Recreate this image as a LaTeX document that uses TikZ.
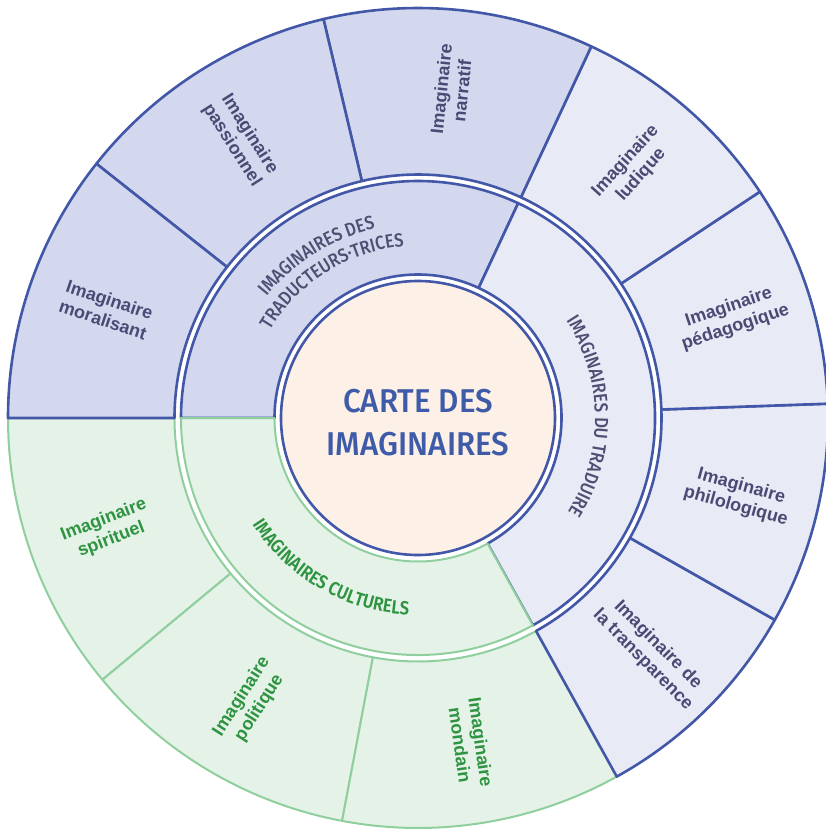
\documentclass[tikz,border=0pt]{standalone}
\usepackage{fontspec}
\setmainfont{Liberation Sans}
\newfontfamily\condfont[FakeStretch=0.88]{Fira Sans Medium}
\newfontfamily\condbold[FakeStretch=0.88]{Fira Sans SemiBold}
\newfontfamily\titlefont[FakeStretch=0.95]{Fira Sans Medium}
\usetikzlibrary{decorations.text}
\definecolor{bline}{HTML}{4257A8}
\definecolor{gline}{HTML}{8FCF9E}
\definecolor{darkfill}{HTML}{D3D8EE}
\definecolor{lightfill}{HTML}{E8EAF6}
\definecolor{greenfill}{HTML}{E5F2E7}
\definecolor{peach}{HTML}{FDF0E6}
\definecolor{btext}{HTML}{4A4B75}
\definecolor{mtext}{HTML}{4D4F73}
\definecolor{gtext}{HTML}{2E9441}
\definecolor{ttext}{HTML}{3E5BA9}
% #1 options, #2 start angle, #3 end angle, #4 inner radius, #5 outer radius
\newcommand\annsec[5]{%
  \path[#1] (#2:#4pt) arc[start angle=#2, end angle=#3, radius=#4pt]
    -- (#3:#5pt) arc[start angle=#3, end angle=#2, radius=#5pt] -- cycle;}
\begin{document}
\begin{tikzpicture}[x=1pt,y=1pt,
  bsec/.style={draw=bline, line width=2.6pt, line join=round},
  gsec/.style={draw=gline, line width=2pt, line join=round},
  lbl/.style={font=\fontsize{18}{21}\selectfont\bfseries, align=center, text=btext, inner sep=0pt},
  glbl/.style={lbl, text=gtext},
  ttl/.style={font=\titlefont\fontsize{33}{33}\selectfont, text=ttext, anchor=base, inner sep=0pt}]
\useasboundingbox (-418,-413) rectangle (408,418);
\clip (-418,-413) rectangle (408,418);
% outer ring, green part
\annsec{gsec, fill=greenfill}{180}{219.67}{243.5}{410}
\annsec{gsec, fill=greenfill}{219.67}{259.33}{243.5}{410}
\annsec{gsec, fill=greenfill}{259.33}{299}{243.5}{410}
% outer ring, light blue part
\annsec{bsec, fill=lightfill}{-61}{-29.5}{243.5}{410}
\annsec{bsec, fill=lightfill}{-29.5}{2}{243.5}{410}
\annsec{bsec, fill=lightfill}{2}{33.5}{243.5}{410}
\annsec{bsec, fill=lightfill}{33.5}{65}{243.5}{410}
% outer ring, dark blue part
\annsec{bsec, fill=darkfill}{65}{103.33}{243.5}{410}
\annsec{bsec, fill=darkfill}{103.33}{141.67}{243.5}{410}
\annsec{bsec, fill=darkfill}{141.67}{180}{243.5}{410}
% middle ring
\annsec{bsec, fill=darkfill}{65}{180}{143.5}{237}
\annsec{bsec, fill=lightfill}{-61}{65}{143.5}{237}
\annsec{gsec, fill=greenfill}{180}{299}{143.5}{237}
% centre
\draw[bline, line width=2.6pt, fill=peach] (0,0) circle[radius=137pt];
\node[ttl] (t1) at (0,6) {CARTE DES};
\node[ttl] (t2) at (0,-37) {IMAGINAIRES};
% middle ring texts
\path[decorate, decoration={text along path, text align=center, text color=mtext,
  text={|\condfont\fontsize{19}{19}\selectfont|IMAGINAIRES DES}}]
  (160:194pt) arc[start angle=160, end angle=84, radius=194pt];
\path[decorate, decoration={text along path, text align=center, text color=mtext,
  text={|\condfont\fontsize{19}{19}\selectfont|TRADUCTEURS·TRICES}}]
  (165:172pt) arc[start angle=165, end angle=79, radius=172pt];
\path[decorate, decoration={text along path, text align=center, text color=mtext,
  text={|\condfont\fontsize{19}{19}\selectfont|IMAGINAIRES DU TRADUIRE}}]
  (60.5:177pt) arc[start angle=60.5, end angle=-59.5, radius=177pt];
\path[decorate, decoration={text along path, text align=center, text color=gtext,
  text={|\condbold\fontsize{19}{19}\selectfont|IMAGINAIRES CULTURELS}}]
  (190:197pt) arc[start angle=190, end angle=290, radius=197pt];
% outer labels
\node[lbl, rotate=-18.5] (moral) at (160.83:330pt) {Imaginaire\\moralisant};
\node[lbl, rotate=-57.5] (passi) at (122.5:330pt) {Imaginaire\\passionnel};
\node[lbl, rotate=84.17] (narra) at (84.17:330pt) {Imaginaire\\narratif};
\node[lbl, rotate=48] (ludiq) at (49.25:330pt) {Imaginaire\\ludique};
\node[lbl, rotate=18.5] (pedag) at (17.75:330pt) {Imaginaire\\pédagogique};
\node[lbl, rotate=-15.5] (philo) at (-13.75:330pt) {Imaginaire\\philologique};
\node[lbl, rotate=-45.25] (trans) at (-45.25:330pt) {Imaginaire de\\la transparence};
\node[glbl, rotate=-82] (monda) at (-80.83:330pt) {Imaginaire\\mondain};
\node[glbl, rotate=57.5] (polit) at (239.5:330pt) {Imaginaire\\politique};
\node[glbl, rotate=21] (spiri) at (199.83:330pt) {Imaginaire\\spirituel};
\end{tikzpicture}
\end{document}
